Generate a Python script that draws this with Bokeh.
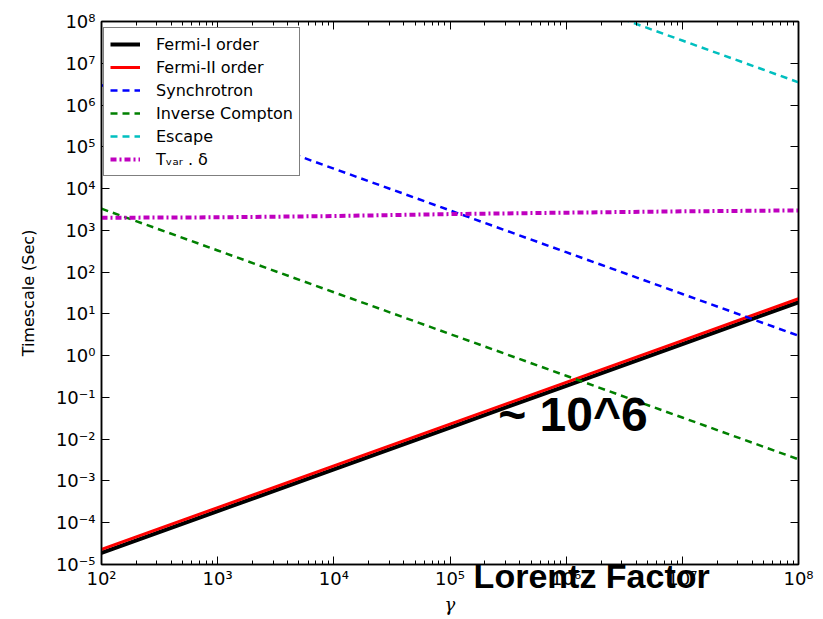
from bokeh.plotting import figure
from bokeh.models import (LogAxis, FixedTicker, CustomJSTickFormatter, Legend, LegendItem, Label)
from bokeh.embed import file_html
from bokeh.resources import INLINE

# ---- data ----
gamma = [1e2, 1e3, 1e4, 1e5, 1e6, 1e7, 1e8]
fermi_1 = [1.9e-5, 1.9e-4, 1.9e-3, 1.9e-2, 1.9e-1, 1.9, 19.0]
fermi_2 = [2.3e-5, 2.3e-4, 2.3e-3, 2.3e-2, 2.3e-1, 2.3, 23.0]
synchrotron = [3.0e6, 3.0e5, 3.0e4, 3.0e3, 3.0e2, 3.0e1, 3.0]
inverse_compton = [3.3e3, 3.3e2, 33.0, 3.3, 0.33, 0.033, 0.0033]
gamma_escape = [1e6, 1e7, 1e8]
escape = [3.5e8, 3.5e7, 3.5e6]
tvar_delta = [2000, 2050, 2200, 2450, 2650, 2850, 3000]

x_ticks = [1e2, 1e3, 1e4, 1e5, 1e6, 1e7, 1e8]
x_tick_labels = ["10²", "10³", "10⁴", "10⁵", "10⁶", "10⁷", "10⁸"]
x_minor = [m * 10 ** e for e in range(2, 8) for m in range(2, 10)]
y_ticks = [10.0 ** e for e in range(-5, 9)]
y_tick_labels = ["10⁻⁵", "10⁻⁴", "10⁻³", "10⁻²", "10⁻¹", "10⁰", "10¹",
                 "10²", "10³", "10⁴", "10⁵", "10⁶", "10⁷", "10⁸"]

labels = ["Fermi-I order", "Fermi-II order", "Synchrotron", "Inverse Compton",
          "Escape", "Tᵥₐᵣ . δ"]

FONT = "DejaVu Sans"

p = figure(width=823, height=619, x_axis_type="log", y_axis_type="log",
           x_range=(1e2, 1e8), y_range=(1e-5, 1e8),
           output_backend="svg", toolbar_location=None,
           min_border_left=101, min_border_right=25, min_border_top=21,
           min_border_bottom=55)
p.grid.visible = False
p.outline_line_color = "black"
p.outline_line_width = 1.5
p.background_fill_color = "white"
p.border_fill_color = "white"

def fmt(tick_list, label_list):
    return CustomJSTickFormatter(args=dict(tvals=tick_list, tlabs=label_list), code="""
        let best = 0, bd = 1e9;
        for (let i = 0; i < tvals.length; i++) {
            const d = Math.abs(Math.log10(tvals[i]) - Math.log10(tick));
            if (d < bd) { bd = d; best = i; }
        }
        return tlabs[best];
    """)

def style_axis(ax, ticker, show_labels, formatter):
    ax.ticker = ticker
    ax.axis_line_color = "black"
    ax.axis_line_width = 1.5
    ax.major_tick_in = 8
    ax.major_tick_out = 0
    ax.minor_tick_in = 4
    ax.minor_tick_out = 0
    ax.major_tick_line_color = "black"
    ax.minor_tick_line_color = "black"
    ax.major_tick_line_width = 1
    ax.minor_tick_line_width = 1
    if show_labels:
        ax.formatter = formatter
        ax.major_label_text_font = FONT
        ax.major_label_text_font_size = "18px"
        ax.major_label_text_color = "black"
    else:
        ax.formatter = CustomJSTickFormatter(code="return '';")
        ax.major_label_text_font_size = "0px"
        ax.major_label_standoff = 0

def label_only_axis(text, font, style, size, standoff):
    ax = LogAxis(ticker=FixedTicker(ticks=[], minor_ticks=[]),
                 formatter=CustomJSTickFormatter(code="return '';"))
    ax.axis_line_color = None
    ax.major_tick_in = 0
    ax.major_tick_out = 0
    ax.minor_tick_in = 0
    ax.minor_tick_out = 0
    ax.major_label_text_font_size = "0px"
    ax.major_label_standoff = 0
    ax.axis_label = text
    ax.axis_label_text_font = font
    ax.axis_label_text_font_style = style
    ax.axis_label_text_font_size = size
    ax.axis_label_text_color = "black"
    ax.axis_label_standoff = standoff
    return ax

xt = FixedTicker(ticks=x_ticks, minor_ticks=x_minor)
yt = FixedTicker(ticks=y_ticks, minor_ticks=[])

style_axis(p.xaxis[0], xt, True, fmt(x_ticks, x_tick_labels))
style_axis(p.yaxis[0], yt, True, fmt(y_ticks, y_tick_labels))
p.xaxis[0].major_label_standoff = 3
p.yaxis[0].major_label_standoff = 6

p.yaxis[0].axis_label = "Timescale (Sec)"
p.yaxis[0].axis_label_text_font = FONT
p.yaxis[0].axis_label_text_font_style = "normal"
p.yaxis[0].axis_label_text_font_size = "16px"
p.yaxis[0].axis_label_text_color = "black"
p.yaxis[0].axis_label_standoff = 15

# overlaid bold annotation under the frame (shifted right with no-break spaces), then gamma
lorentz_axis = label_only_axis("\u00a0" * 30 + "Lorentz Factor", "Liberation Sans", "bold",
                               "34px", -35)
gamma_axis = label_only_axis("γ", "DejaVu Serif", "italic", "18px", -4)
p.add_layout(lorentz_axis, "below")
p.add_layout(gamma_axis, "below")

top = LogAxis()
style_axis(top, FixedTicker(ticks=x_ticks, minor_ticks=x_minor), False, None)
right = LogAxis()
style_axis(right, FixedTicker(ticks=y_ticks, minor_ticks=[]), False, None)
p.add_layout(top, "above")
p.add_layout(right, "right")

r1 = p.line(gamma, fermi_1, line_color="black", line_width=4)
r2 = p.line(gamma, fermi_2, line_color="#ff0000", line_width=3)
r3 = p.line(gamma, synchrotron, line_color="#0000ff", line_width=2.5, line_dash="7 5")
r4 = p.line(gamma, inverse_compton, line_color="#008000", line_width=2.5, line_dash="7 5")
r5 = p.line(gamma_escape, escape, line_color="#00bfbf", line_width=2.5, line_dash="7 5")
r6 = p.line(gamma, tvar_delta, line_color="#bf00bf", line_width=4, line_dash="6 3 2 3")

legend = Legend(items=[LegendItem(label=l, renderers=[r]) for l, r in
                       zip(labels, [r1, r2, r3, r4, r5, r6])],
                location=(2, 388), margin=0)
legend.label_text_font = FONT
legend.label_text_font_size = "16px"
legend.label_text_color = "black"
legend.label_height = 20
legend.glyph_height = 20
legend.glyph_width = 30
legend.spacing = 3
legend.padding = 6
legend.label_standoff = 16
legend.border_line_color = "black"
legend.border_line_width = 1.5
legend.background_fill_alpha = 1
p.add_layout(legend, "center")

p.add_layout(Label(x=2.6e5, y=0.04, text="~ 10^6", text_font="Liberation Sans",
                   text_font_style="bold", text_font_size="48px", text_color="black",
                   text_baseline="alphabetic"))

open("out.html", "w").write(file_html(p, INLINE))
